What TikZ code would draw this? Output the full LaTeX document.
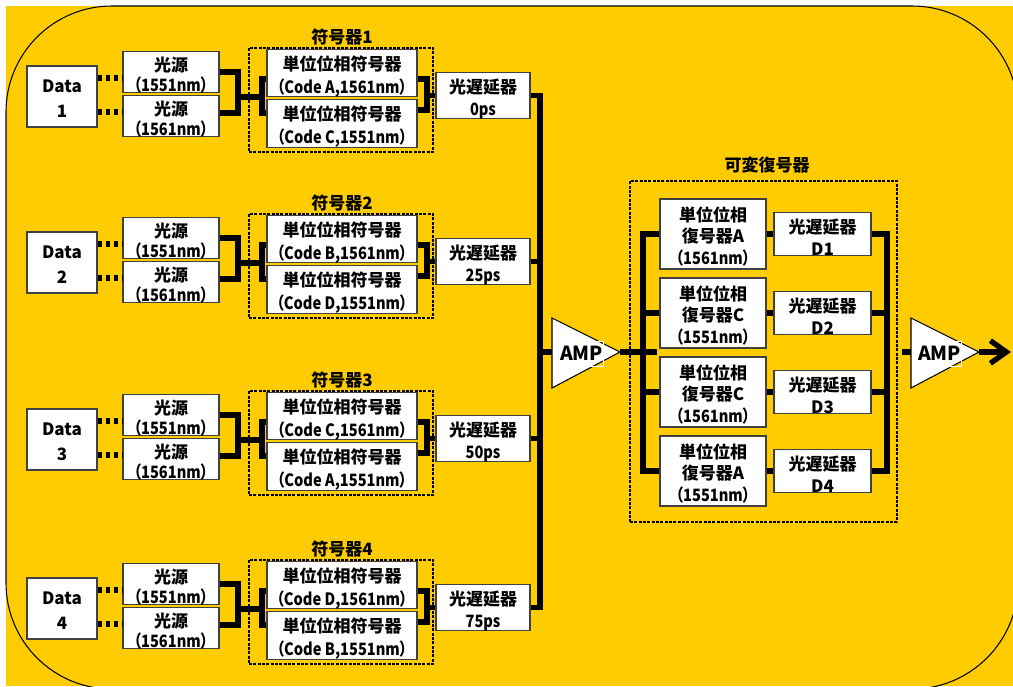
\documentclass[tikz,border=0pt]{standalone}
\usepackage{fontspec}
\setmainfont{Noto Sans CJK JP}[RawFeature=+palt]
\newfontfamily\latn{Noto Sans CJK JP}[RawFeature=+palt, FakeStretch=0.86]
\newcommand\tstrut[1]{\rule{0pt}{#1}}
\usetikzlibrary{arrows.meta,calc}
\definecolor{bg}{HTML}{FFCC00}
\definecolor{bd}{HTML}{404040}
\tikzset{
 box/.style={draw=bd, line width=0.8pt, fill=white, inner sep=0pt, align=center,
   font=\bfseries\fontsize{12.75pt}{17pt}\selectfont},
 conn/.style={line width=4pt},
 dotconn/.style={line width=3.8pt, dash pattern=on 3.7pt off 2.3pt},
 grp/.style={draw, line width=2pt, dash pattern=on 2.25pt off 1pt, inner sep=0pt},
 lbl/.style={font=\bfseries\fontsize{12.75pt}{16pt}\selectfont, inner sep=0pt},
 ampbody/.style={draw=black, line width=0.8pt, fill=white},
 amptext/.style={draw=white, line width=0.6pt, inner sep=0pt, minimum width=32.25pt,
   minimum height=18.75pt, font=\bfseries\fontsize{14.5pt}{16pt}\selectfont},
}
\begin{document}
\begin{tikzpicture}[x=0.75pt,y=-0.75pt]
\useasboundingbox (0,0) rectangle (1013,686);
\fill[white] (0,0) rectangle (1013,686);
\fill[bg] (6,6) rectangle (1013,686);
\begin{scope}
\clip (0,0) rectangle (1013,686);
\draw[line width=0.8pt, rounded corners=79.5pt] (6,6) rectangle (1018,689);
\end{scope}

% ---------- encoder rows ----------
\foreach \r/\d/\ca/\cb/\ps in {1/0/A/C/0, 2/166/B/D/25, 3/343/C/A/50, 4/512/D/B/75} {
  \node[grp, minimum width=138pt, minimum height=78pt] (grp\r) at (341,100+\d) {};
  \node[lbl] (gl\r) at (342,37+\d) {符号器\r};
  \node[box, minimum width=52.5pt, minimum height=45.75pt, font=\bfseries\fontsize{12.75pt}{18.5pt}\selectfont]
     (data\r) at (62,96.5+\d) {\tstrut{12.9pt}Data\\\r};
  \node[box, minimum width=72pt, minimum height=30pt, font=\bfseries\fontsize{12.75pt}{15pt}\selectfont]
     (sa\r) at (171,72+\d) {\tstrut{15pt}光源\\{\latn（1551nm）}};
  \node[box, minimum width=72pt, minimum height=30pt, font=\bfseries\fontsize{12.75pt}{15pt}\selectfont]
     (sb\r) at (171,116+\d) {\tstrut{15pt}光源\\{\latn（1561nm）}};
  \node[box, minimum width=112.5pt, minimum height=34.5pt] (ea\r) at (342,73+\d)
     {\tstrut{16pt}単位位相符号器\\{\latn（Code \ca,1561nm）}};
  \node[box, minimum width=112.5pt, minimum height=34.5pt] (eb\r) at (342,123.5+\d)
     {\tstrut{16pt}単位位相符号器\\{\latn（Code \cb,1551nm）}};
  \node[box, minimum width=70.5pt, minimum height=30.75pt, font=\bfseries\fontsize{12.75pt}{16.5pt}\selectfont]
     (dly\r) at (483,95.5+\d) {\tstrut{16pt}光遅延器\\{\latn\ps ps}};
  \coordinate (jl\r) at (238,97+\d);
  \coordinate (jr\r) at (262,97+\d);
  \coordinate (je\r) at (427,95.5+\d);
  % data to sources
  \draw[dotconn] (data\r.east) ++(0,-18.5) coordinate (t) -- (t -| sa\r.west);
  \draw[dotconn] (data\r.east) ++(0,15.5) coordinate (t) -- (t -| sb\r.west);
  % sources to encoders
  \draw[conn] (sa\r.east) -| (jl\r) |- ([yshift=2.25pt]sb\r.east);
  \draw[conn] (jl\r) -- (jr\r);
  \draw[conn] ([yshift=-4.5pt]ea\r.west) -| (jr\r) |- ([yshift=7.9pt]eb\r.west);
  % encoders to delay
  \draw[conn] ([yshift=-4.5pt]ea\r.east) -| (je\r) |- ([yshift=10.1pt]eb\r.east);
  \draw[conn] (je\r) -- (dly\r.west);
}

% ---------- main bus ----------
\coordinate (busmid) at (540,352);
\draw[conn] (dly1.east) -| (busmid) |- (dly4.east);
\draw[conn] (dly2.east) -- (dly2.east -| busmid);
\draw[conn] (dly3.east) -- (dly3.east -| busmid);

% ---------- AMP 1 ----------
\coordinate (amp1in) at (552,352);
\coordinate (amp1out) at (620,352);
\draw[ampbody] (552,318) -- (amp1out) -- (552,388) -- cycle;
\node[amptext] (amp1) at (581.5,353.5) {AMP};
\draw[conn] (busmid) -- (amp1in);
\coordinate (a1end) at (657,352);
\draw[conn] (amp1out) -- (a1end);

% ---------- decoder ----------
\node[grp, minimum width=200.25pt, minimum height=255.75pt] (dgrp) at (763.5,351.5) {};
\node[lbl] (dgl) at (767,165) {可変復号器};
\foreach \i/\y/\L/\w in {1/234/A/1561, 2/313/C/1551, 3/392/C/1561, 4/471/A/1551} {
  \node[box, minimum width=79.5pt, minimum height=52.5pt, font=\bfseries\fontsize{12.75pt}{16.2pt}\selectfont]
     (dec\i) at (713,\y) {\tstrut{14.5pt}単位位相\\復号器\L\\{\latn（\w nm）}};
  \node[box, minimum width=72.75pt, minimum height=30.75pt, font=\bfseries\fontsize{12.75pt}{16.5pt}\selectfont]
     (dl\i) at (822.5,\y) {\tstrut{16pt}光遅延器\\D\i};
  \draw[conn] (dec\i.east) -- (dl\i.west);
}
\coordinate (lb) at (643,352);
\coordinate (rb) at (887,352);
\draw[conn] (dec1.west) -| (lb) |- (dec4.west);
\draw[conn] (dec2.west) -- (dec2.west -| lb);
\draw[conn] (dec3.west) -- (dec3.west -| lb);
\draw[conn] (dl1.east) -| (rb) |- (dl4.east);
\draw[conn] (dl2.east) -- (dl2.east -| rb);
\draw[conn] (dl3.east) -- (dl3.east -| rb);

% ---------- AMP 2 ----------
\coordinate (amp2in) at (911,352);
\coordinate (amp2out) at (979,352);
\coordinate (a2start) at (902,352);
\coordinate (outend) at (1011,352);
\draw[ampbody] (911,318) -- (amp2out) -- (911,388) -- cycle;
\node[amptext] (amp2) at (939.5,353.5) {AMP};
\draw[conn] (a2start) -- (amp2in);
\draw[line width=4pt, -{Straight Barb[length=12pt,width=17pt]}] (amp2out) -- (outend);
\end{tikzpicture}
\end{document}
